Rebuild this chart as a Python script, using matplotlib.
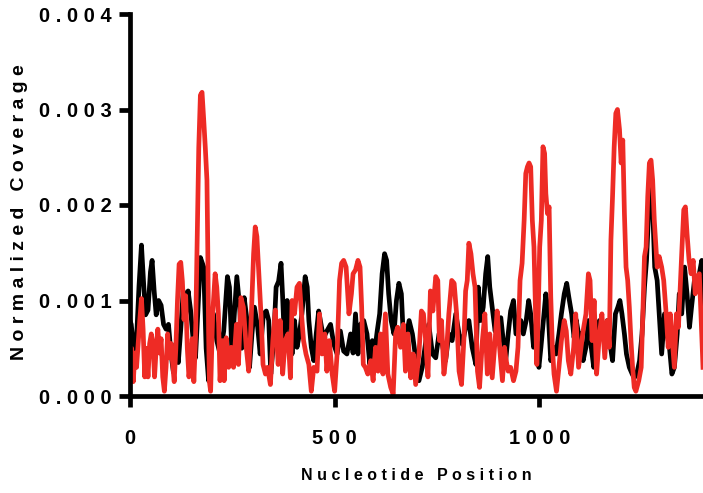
import numpy as np
import matplotlib
matplotlib.use("Agg")
import matplotlib.pyplot as plt

# coverage, values in units of 1e-3
pos_black = [0, 3, 10, 16, 22, 28, 33, 38, 44, 50, 54, 59, 64, 70, 76, 82, 88, 94, 100, 106,
             112, 118, 124, 130, 136, 142, 148, 154, 160, 166, 172, 180, 186, 192, 197, 204, 212, 220, 229, 238,
             243, 249, 255, 261, 268, 273, 279, 286, 292, 298, 304, 312, 318, 326, 333, 339, 344, 351, 357, 363,
             369, 373, 378, 384, 389, 396, 402, 408, 414, 420, 428, 433, 437, 443, 449, 455, 461, 468, 473, 481,
             490, 498, 506, 514, 522, 530, 539, 545, 551, 557, 563, 571, 579, 586, 592, 597, 604, 610, 616, 622,
             627, 632, 638, 645, 651, 657, 663, 669, 676, 682, 690, 698, 706, 714, 722, 730, 739, 747, 755, 763,
             771, 779, 787, 796, 804, 812, 820, 828, 836, 845, 851, 857, 863, 869, 874, 879, 885, 892, 898, 906,
             912, 918, 924, 930, 937, 943, 948, 955, 961, 968, 974, 979, 986, 992, 999, 1004, 1010, 1016, 1022, 1028,
             1035, 1041, 1048, 1054, 1061, 1067, 1072, 1079, 1085, 1090, 1096, 1102, 1107, 1114, 1120, 1127, 1133, 1140, 1147, 1153,
             1160, 1166, 1173, 1179, 1186, 1192, 1197, 1202, 1208, 1213, 1220, 1227, 1232, 1238, 1245, 1251, 1257, 1262, 1267, 1272,
             1277, 1282, 1288, 1293, 1299, 1306, 1312, 1318, 1324, 1330, 1337, 1342, 1348, 1355, 1361, 1367, 1372, 1379, 1386, 1391,
             1397, 1403]
cov_black = [0.79, 0.75, 0.45, 0.6, 1.15, 1.58, 1.2, 0.85, 0.9, 1.3, 1.42, 1.1, 0.85, 1.0, 0.95, 0.75, 0.7, 0.75, 0.45, 0.25,
             0.55, 0.35, 0.7, 1.1, 0.85, 1.1, 0.9, 0.6, 0.4, 0.9, 1.45, 1.35, 0.5, 0.16, 0.58, 0.86, 0.58, 0.44, 0.68, 1.25,
             1.14, 0.44, 0.86, 1.25, 0.93, 0.5, 1.03, 0.79, 0.3, 0.65, 0.93, 0.72, 0.44, 0.86, 0.89, 0.79, 0.23, 0.58, 1.14, 1.2,
             1.39, 1.03, 0.51, 1.0, 0.89, 0.44, 0.79, 0.51, 0.65, 0.86, 1.25, 1.14, 0.79, 0.51, 0.37, 0.65, 0.89, 0.72, 0.61, 0.68,
             0.75, 0.54, 0.44, 0.68, 0.47, 0.44, 0.65, 0.45, 0.86, 0.44, 0.75, 0.79, 0.65, 0.33, 0.58, 0.44, 0.68, 0.86, 1.28, 1.49,
             1.42, 1.07, 0.79, 0.65, 1.0, 1.18, 1.07, 0.51, 0.65, 0.79, 0.65, 0.4, 0.16, 0.3, 0.55, 0.75, 0.44, 0.4, 0.65, 0.54,
             0.37, 0.65, 0.58, 0.86, 0.65, 0.54, 0.72, 0.79, 0.51, 0.33, 1.14, 0.79, 0.93, 1.28, 1.46, 1.14, 0.93, 0.68, 0.79, 0.82,
             0.58, 0.37, 0.65, 0.89, 1.0, 0.65, 0.68, 0.79, 0.65, 0.79, 1.0, 0.86, 0.51, 0.65, 0.3, 0.51, 0.79, 1.07, 0.86, 0.37,
             0.51, 0.44, 0.65, 0.86, 1.07, 1.18, 1.04, 0.86, 0.61, 0.8, 0.65, 0.65, 0.37, 0.51, 0.79, 0.51, 0.3, 0.65, 0.79, 0.72,
             0.65, 0.79, 0.54, 0.37, 0.86, 0.93, 1.0, 0.86, 0.65, 0.44, 0.3, 0.23, 0.19, 0.23, 0.37, 0.65, 1.14, 1.42, 1.91, 2.19,
             1.98, 1.35, 1.21, 0.86, 0.44, 0.86, 0.65, 0.51, 0.23, 0.3, 0.65, 1.07, 0.86, 1.35, 1.07, 0.72, 0.93, 1.21, 1.14, 1.28,
             1.42, 0.86]

pos_red = [0, 4, 8, 12, 16, 20, 24, 28, 32, 36, 40, 44, 48, 52, 56, 60, 64, 68, 72, 76,
           80, 84, 88, 92, 96, 100, 104, 108, 112, 116, 120, 124, 128, 132, 136, 140, 144, 148, 152, 156,
           160, 164, 168, 172, 176, 180, 184, 188, 190, 192, 194, 197, 202, 208, 212, 216, 220, 226, 230, 235,
           241, 247, 253, 260, 265, 271, 277, 284, 290, 295, 302, 306, 310, 314, 320, 325, 331, 336, 343, 349,
           355, 362, 367, 373, 379, 386, 392, 396, 402, 408, 414, 419, 424, 430, 437, 443, 449, 457, 463, 469,
           476, 481, 487, 494, 500, 506, 512, 517, 522, 528, 535, 541, 545, 551, 557, 562, 566, 570, 575, 581,
           588, 594, 600, 606, 612, 618, 624, 630, 637, 643, 649, 654, 661, 668, 673, 679, 686, 692, 698, 706,
           712, 717, 722, 728, 734, 740, 747, 752, 756, 761, 767, 773, 779, 786, 792, 798, 804, 810, 816, 820,
           824, 828, 833, 838, 843, 849, 854, 861, 867, 873, 879, 885, 892, 897, 903, 910, 915, 918, 924, 930,
           937, 943, 948, 953, 958, 963, 967, 971, 975, 979, 983, 987, 991, 994, 997, 1001, 1005, 1009, 1013, 1016,
           1020, 1024, 1028, 1032, 1036, 1042, 1048, 1054, 1061, 1066, 1071, 1077, 1084, 1089, 1096, 1102, 1107, 1114, 1120, 1124,
           1129, 1134, 1140, 1147, 1153, 1160, 1166, 1171, 1175, 1179, 1183, 1187, 1191, 1196, 1200, 1204, 1208, 1212, 1216, 1220,
           1224, 1228, 1232, 1236, 1243, 1249, 1253, 1257, 1261, 1265, 1269, 1273, 1277, 1281, 1285, 1288, 1293, 1299, 1304, 1310,
           1315, 1320, 1325, 1330, 1335, 1340, 1345, 1348, 1353, 1357, 1361, 1366, 1371, 1376, 1381, 1386, 1391, 1395, 1400]
cov_red = [0.35, 0.5, 0.15, 0.45, 0.3, 0.55, 0.8, 1.02, 0.7, 0.2, 0.5, 0.2, 0.55, 0.65, 0.55, 0.2, 0.5, 0.7, 0.45, 0.6,
           0.2, 0.05, 0.3, 0.65, 0.4, 0.55, 0.35, 0.15, 0.5, 1.0, 1.38, 1.4, 1.2, 0.8, 1.05, 0.5, 0.2, 0.35, 0.6, 0.15,
           0.6, 1.6, 2.6, 3.15, 3.18, 2.9, 2.6, 2.26, 1.56, 0.68, 0.15, 0.05, 0.86, 1.28, 1.14, 0.86, 0.16, 0.58, 0.16, 0.61,
           0.3, 0.51, 0.3, 0.75, 0.33, 1.03, 0.93, 0.51, 0.26, 0.68, 1.49, 1.77, 1.67, 1.35, 0.86, 0.33, 0.23, 0.3, 0.12, 0.58,
           0.9, 0.33, 0.79, 0.23, 0.58, 0.65, 0.19, 1.0, 0.86, 1.14, 1.18, 0.86, 0.58, 0.44, 0.33, 0.05, 0.3, 0.26, 0.86, 0.44,
           0.65, 0.26, 0.58, 0.23, 0.05, 0.44, 1.21, 1.39, 1.42, 1.35, 0.86, 1.07, 1.28, 1.32, 1.42, 1.35, 0.93, 0.33, 0.3, 0.23,
           0.37, 0.16, 0.51, 0.26, 0.65, 0.23, 0.86, 0.23, 0.09, 0.02, 0.65, 0.72, 0.51, 0.75, 0.26, 0.65, 0.19, 0.44, 0.12, 0.44,
           0.89, 0.86, 0.6, 0.2, 1.1, 0.89, 1.25, 1.21, 0.58, 0.79, 0.23, 0.44, 0.86, 1.21, 1.18, 0.86, 0.26, 0.12, 0.61, 1.1,
           1.21, 1.6, 1.49, 1.28, 1.14, 0.26, 0.09, 0.58, 0.86, 0.23, 0.65, 0.19, 0.58, 0.89, 0.51, 0.16, 0.51, 0.4, 0.26, 0.3,
           0.16, 0.26, 0.51, 1.21, 1.39, 1.84, 2.33, 2.4, 2.44, 2.4, 1.84, 1.56, 0.86, 0.33, 0.79, 1.56, 1.84, 2.61, 2.54, 2.12,
           1.91, 1.98, 1.04, 0.51, 0.23, 0.05, 0.3, 0.58, 0.79, 0.68, 0.37, 0.23, 0.51, 0.86, 0.3, 0.51, 0.68, 0.86, 1.28, 1.21,
           0.58, 1.0, 0.23, 0.65, 0.86, 0.4, 0.79, 0.51, 1.63, 2.09, 2.61, 2.96, 3.0, 2.79, 2.44, 2.68, 1.91, 1.35, 1.21, 0.93,
           0.58, 0.3, 0.09, 0.05, 0.16, 0.3, 0.86, 1.46, 1.56, 2.09, 2.44, 2.47, 2.26, 1.84, 1.56, 1.35, 1.46, 1.35, 1.21, 0.86,
           0.51, 0.86, 0.58, 0.3, 0.86, 0.72, 1.21, 1.49, 1.95, 1.98, 1.7, 1.42, 1.28, 1.42, 1.07, 1.25, 1.28, 0.86, 0.3]

x_ticks = [0, 500, 1000]
y_ticks = [0.000, 0.001, 0.002, 0.003, 0.004]


def spaced(s):
    return " ".join(list(s))


plt.rcParams['font.family'] = ['Liberation Sans', 'DejaVu Sans']
plt.rcParams['font.weight'] = 'bold'

fig = plt.figure(figsize=(7.03, 4.93), dpi=100)
ax = fig.add_axes([130/703, (493-396)/493, (703-130)/703, (396-14)/493])

ax.plot(pos_black, np.array(cov_black) * 1e-3, color='black', lw=3.4, solid_joinstyle='round')
ax.plot(pos_red, np.array(cov_red) * 1e-3, color='#EE2B25', lw=3.4, solid_joinstyle='round')

ax.set_xlim(0, 1400)
ax.set_ylim(0, 0.004)
ax.set_xticks(x_ticks)
ax.set_xticklabels([spaced(str(t)) for t in x_ticks])
ax.set_yticks(y_ticks)
ax.set_yticklabels([spaced(f"{t:.3f}") for t in y_ticks])

for side in ['top', 'right']:
    ax.spines[side].set_visible(False)
for side in ['left', 'bottom']:
    ax.spines[side].set_linewidth(3.4)
ax.tick_params(axis='both', length=8, width=3.4, labelsize=14.5)
ax.tick_params(axis='y', pad=5)
ax.tick_params(axis='x', pad=16)

fig.text(416/703, 1 - 476/493, spaced("Nucleotide Position"), ha='center', va='center',
         fontsize=11.5, fontweight='bold')
fig.text(20/703, 1 - 212/493, spaced("Normalized Coverage"), ha='center', va='center',
         rotation=90, fontsize=14, fontweight='bold')

fig.savefig('out.png', dpi=100)
